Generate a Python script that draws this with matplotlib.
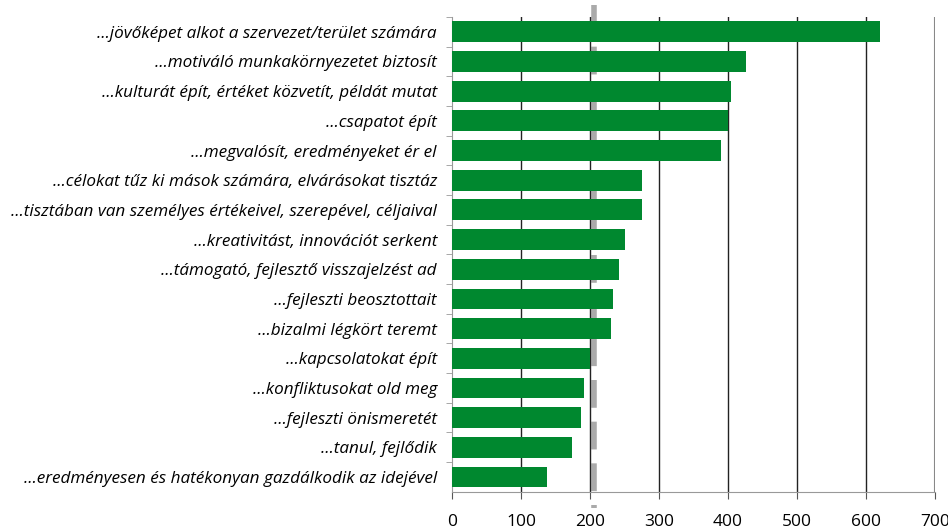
import matplotlib.pyplot as plt

# vezetői kompetenciák - említések száma
labels = [
    "...jövőképet alkot a szervezet/terület számára",
    "...motiváló munkakörnyezetet biztosít",
    "...kulturát épít, értéket közvetít, példát mutat",
    "...csapatot épít",
    "...megvalósít, eredményeket ér el",
    "...célokat tűz ki mások számára, elvárásokat tisztáz",
    "...tisztában van személyes értékeivel, szerepével, céljaival",
    "...kreativitást, innovációt serkent",
    "...támogató, fejlesztő visszajelzést ad",
    "...fejleszti beosztottait",
    "...bizalmi légkört teremt",
    "...kapcsolatokat épít",
    "...konfliktusokat old meg",
    "...fejleszti önismeretét",
    "...tanul, fejlődik",
    "...eredményesen és hatékonyan gazdálkodik az idejével",
]
values = [620, 426, 404, 400, 390, 275, 275, 251, 242, 233, 230, 200, 191, 187, 174, 138]
xticks = [0, 100, 200, 300, 400, 500, 600, 700]
avg_line = 205

plt.rcParams['font.family'] = ['Open Sans', 'DejaVu Sans']

fig = plt.figure(figsize=(9.48, 5.3), dpi=100)
ax = fig.add_axes([0.477, 0.072, 0.509, 0.896])

ypos = list(range(len(labels)))
ax.barh(ypos, values, height=0.7, color='#00882f', zorder=3)
ax.set_ylim(len(labels) - 0.5, -0.5)
ax.set_xlim(0, 700)

ax.set_yticks(ypos)
ax.set_yticklabels(labels, fontsize=12.3, style='italic')
ax.set_yticks([y + 0.5 for y in ypos[:-1]] + [-0.5], minor=True)
ax.tick_params(axis='y', which='major', length=0, pad=11)
ax.tick_params(axis='y', which='minor', length=4, color='#999999')

ax.set_xticks(xticks)
ax.set_xticklabels([str(t) for t in xticks], fontsize=12.5)
ax.tick_params(axis='x', length=5, color='#555555', pad=11)

for t in xticks[1:-1]:
    ax.axvline(t, color='#222222', lw=1, zorder=2)
ax.axvline(700, color='#888888', lw=1.5, zorder=2)

# átlag - szaggatott vonal
ax.plot([avg_line, avg_line], [-0.9, len(labels) - 0.5 + 0.55], color='#aaaaaa',
        lw=4, dashes=(5, 2.5), clip_on=False, zorder=1)

for s in ['top', 'right']:
    ax.spines[s].set_visible(False)
ax.spines['left'].set_color('#999999')
ax.spines['bottom'].set_color('#999999')

fig.savefig('out.png', dpi=100)
